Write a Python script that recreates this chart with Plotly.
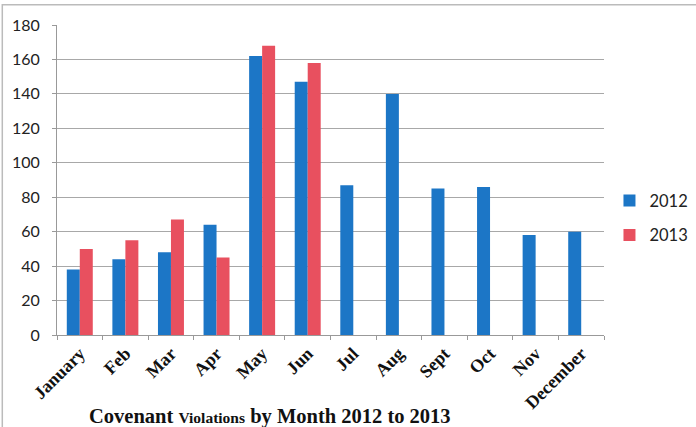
import plotly.graph_objects as go

months = ["January", "Feb", "Mar", "Apr", "May", "Jun", "Jul", "Aug", "Sept", "Oct", "Nov", "December"]
v2012 = [38, 44, 48, 64, 162, 147, 87, 140, 85, 86, 58, 60]
v2013 = [50, 55, 67, 45, 168, 158, None, None, None, None, None, None]
y_ticks = [0, 20, 40, 60, 80, 100, 120, 140, 160, 180]

BLUE = "#1c76c6"
RED = "#e8505f"

fig = go.Figure()
fig.add_trace(go.Bar(name="2012", x=months, y=v2012, marker=dict(color=BLUE, line=dict(width=0)),
                     legendgroup="a"))
fig.add_trace(go.Bar(name="2013", x=months, y=v2013, marker=dict(color=RED, line=dict(width=0)),
                     legendgroup="b"))

fig.update_layout(
    width=696, height=427,
    margin=dict(l=57, r=92, t=25, b=92, autoexpand=False),
    paper_bgcolor="white", plot_bgcolor="white",
    barmode="group", bargap=0.43, bargroupgap=0,
    showlegend=True,
    legend=dict(x=1.01, y=0.378, xanchor="left", yanchor="middle",
                font=dict(family="Lato, Open Sans, sans-serif", size=16.5, color="#222"),
                tracegroupgap=10, itemsizing="constant", itemwidth=30, bgcolor="rgba(0,0,0,0)"),
    xaxis=dict(
        type="category", categoryorder="array", categoryarray=months,
        tickangle=-45, tickson="boundaries", ticks="outside", ticklen=4, tickcolor="#999",
        showline=True, linecolor="#999", linewidth=1, showgrid=False,
        tickfont=dict(family="Liberation Serif, Times New Roman, serif", size=18, color="#111"),
        tickvals=months, ticktext=["<b>" + m + "</b>" for m in months],
    ),
    yaxis=dict(
        range=[0, 180], tickvals=y_ticks, ticks="outside", ticklen=4, tickcolor="#999",
        showline=True, linecolor="#999", linewidth=1,
        showgrid=True, gridcolor="#a8a8a8", gridwidth=1, zeroline=False,
        tickfont=dict(family="Lato, Open Sans, sans-serif", size=16, color="#222"),
        ticklabelstandoff=9,
    ),
    annotations=[dict(
        text="<b>Covenant <span style='font-size:15.5px'>Violations</span> by Month 2012 to 2013</b>",
        xref="paper", yref="paper", x=0.389, y=-0.262, xanchor="center", yanchor="middle",
        showarrow=False,
        font=dict(family="Liberation Serif, Times New Roman, serif", size=20.5, color="#111"),
    )],
    shapes=[dict(type="rect", xref="paper", yref="paper",
                 x0=-0.1, x1=1.2, y0=-0.4, y1=1.065,
                 line=dict(color="#bbbbbb", width=1.5), layer="below")],
)

fig.write_html("out.html", config={"displayModeBar": False},
               post_script="document.body.style.margin='0';document.body.style.padding='0';")
